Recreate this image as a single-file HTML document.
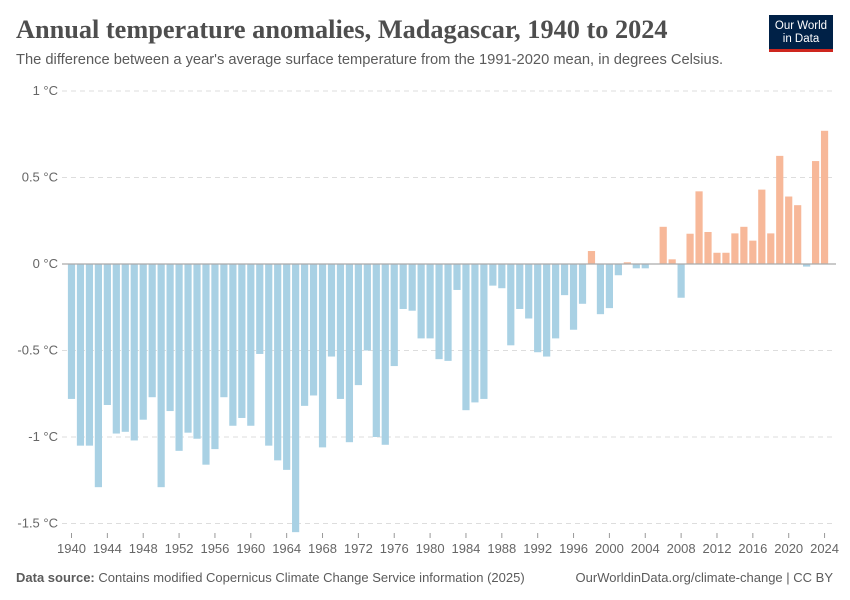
<!DOCTYPE html>
<html><head><meta charset="utf-8"><style>
body{margin:0;background:#fff;font-family:"Liberation Sans",sans-serif;}
#wrap{position:relative;width:850px;height:600px;overflow:hidden;}
.t{position:absolute;white-space:nowrap;}
</style></head><body>
<div id="wrap">
<div class="t" style="left:16px;top:15px;font-family:'Liberation Serif',serif;font-size:26.3px;font-weight:bold;color:#4e4e4e;">Annual temperature anomalies, Madagascar, 1940 to 2024</div>
<div class="t" style="left:16px;top:52px;font-size:14.7px;color:#5b5b5b;">The difference between a year's average surface temperature from the 1991-2020 mean, in degrees Celsius.</div>
<div style="position:absolute;left:769px;top:15px;width:64px;height:37px;background:#002147;border-bottom:3px solid #ce261e;color:#fff;font-size:11.5px;line-height:13px;text-align:center;padding-top:5px;box-sizing:border-box;">Our World<br>in Data</div>
<svg id="chart" width="850" height="600" style="position:absolute;left:0;top:0"></svg>
<div class="t" style="left:16px;top:570px;font-size:13px;color:#5b5b5b;"><b>Data source:</b> Contains modified Copernicus Climate Change Service information (2025)</div>
<div class="t" style="right:17px;top:570px;font-size:13px;color:#5b5b5b;">OurWorldinData.org/climate-change | CC BY</div>
</div>
<script>
const years=[];for(let y=1940;y<=2024;y++)years.push(y);
const values=[-0.78,-1.05,-1.05,-1.29,-0.815,-0.98,-0.97,-1.02,-0.90,-0.77,
-1.29,-0.85,-1.08,-0.975,-1.01,-1.16,-1.07,-0.77,-0.935,-0.89,
-0.935,-0.52,-1.05,-1.135,-1.19,-1.55,-0.82,-0.76,-1.06,-0.535,
-0.78,-1.03,-0.70,-0.50,-1.00,-1.045,-0.59,-0.26,-0.27,-0.43,
-0.43,-0.55,-0.56,-0.15,-0.845,-0.80,-0.78,-0.125,-0.14,-0.47,
-0.26,-0.315,-0.51,-0.535,-0.43,-0.18,-0.38,-0.23,0.075,-0.29,
-0.255,-0.065,0.01,-0.025,-0.025,0,0.215,0.027,-0.195,0.175,
0.42,0.185,0.065,0.065,0.177,0.215,0.135,0.43,0.177,0.625,
0.39,0.34,-0.015,0.595,0.77];
const yTicks=[1,0.5,0,-0.5,-1,-1.5];
const yTickLabels=["1 °C","0.5 °C","0 °C","-0.5 °C","-1 °C","-1.5 °C"];
const xTicks=[1940,1944,1948,1952,1956,1960,1964,1968,1972,1976,1980,1984,1988,1992,1996,2000,2004,2008,2012,2016,2020,2024];
const NS="http://www.w3.org/2000/svg";
const svg=document.getElementById('chart');
const yS=v=>264-v*173;
const xS=y=>71.5+(y-1940)*8.965;
function mk(t,a){const e=document.createElementNS(NS,t);for(const k in a)e.setAttribute(k,a[k]);svg.appendChild(e);return e;}
yTicks.forEach((v,i)=>{
 if(v!==0){const l=mk('line',{x1:62,x2:836,y1:yS(v),y2:yS(v),stroke:'#ddd','stroke-dasharray':'5,4'});
 
 }
 const t=mk('text',{x:58,y:yS(v)+4,'font-size':13,fill:'#666','text-anchor':'end','font-family':'Liberation Sans, sans-serif'});
 t.textContent=yTickLabels[i];
 
 
});
years.forEach((yr,i)=>{
 const v=values[i];if(v===0)return;
 const y0=yS(0),y1=yS(v);
 const r=mk('rect',{x:xS(yr)-3.6,y:Math.min(y0,y1),width:7.2,height:Math.abs(y1-y0),fill:v>0?'#f7b899':'#a9d1e4'});
 
 
});
const z=mk('line',{x1:62,x2:836,y1:yS(0),y2:yS(0),stroke:'#aaa','stroke-width':1.2});


xTicks.forEach(yr=>{
 const tk=mk('line',{x1:xS(yr),x2:xS(yr),y1:533,y2:538,stroke:'#999'});
 
 
 const t=mk('text',{x:xS(yr),y:553,'font-size':13,fill:'#666','text-anchor':'middle','font-family':'Liberation Sans, sans-serif'});
 t.textContent=yr;
 
 
});
</script>
</body></html>
